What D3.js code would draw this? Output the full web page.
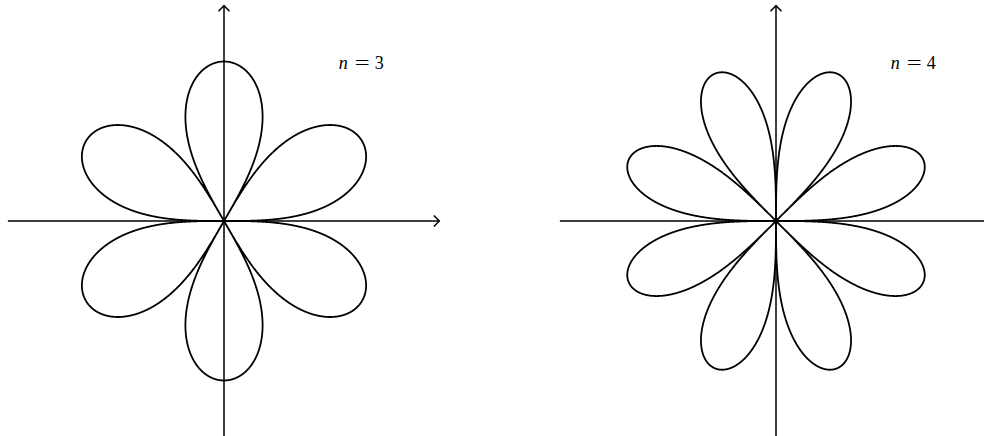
<!doctype html>
<meta charset="utf-8">
<style>
body { margin: 0; background: #fff; }
svg { display: block; }
.axis { stroke: #000; stroke-width: 1.5; fill: none; }
.curve { stroke: #000; stroke-width: 1.8; fill: none; stroke-linejoin: round; }
.label { font-family: "Liberation Serif", "DejaVu Serif", serif; font-size: 18px; fill: #000; }
</style>
<div id="chart"></div>
<script src="https://cdn.jsdelivr.net/npm/d3@7"></script>
<script>
// petal curves r = sqrt(|sin(n*theta)|), one panel per n
var petalCounts = [3, 4];
var panelLabels = ['3', '4'];
var axisMin = -1.355;
var axisMax = 1.35;
var labelPos = [0.72, 0.955];

var width = 984;
var height = 436;
var unit = 159.5;
var centers = [224, 776];
var cy = 221;

var svg = d3.select('#chart').append('svg')
    .attr('width', width)
    .attr('height', height);

function drawPanel (n, label, cx) {
    var x = d3.scaleLinear().domain([-1, 1]).range([cx - unit, cx + unit]);
    var y = d3.scaleLinear().domain([-1, 1]).range([cy + unit, cy - unit]);
    var g = svg.append('g');

    // axes
    g.append('line').attr('class', 'axis')
        .attr('x1', x(axisMin)).attr('x2', x(axisMax))
        .attr('y1', y(0)).attr('y2', y(0));
    g.append('line').attr('class', 'axis')
        .attr('x1', x(0)).attr('x2', x(0))
        .attr('y1', y(axisMin)).attr('y2', y(axisMax));

    // open arrow heads
    var ax = x(axisMax), ay = y(0);
    g.append('path').attr('class', 'axis')
        .attr('d', 'M' + (ax - 5.5) + ',' + (ay - 5.5) + 'L' + ax + ',' + ay + 'L' + (ax - 5.5) + ',' + (ay + 5.5));
    var tx = x(0), ty = y(axisMax);
    g.append('path').attr('class', 'axis')
        .attr('d', 'M' + (tx - 5.5) + ',' + (ty + 5.5) + 'L' + tx + ',' + ty + 'L' + (tx + 5.5) + ',' + (ty + 5.5));

    // the curve, sampled so every zero of sin(n*theta) is hit exactly
    var steps = 2 * n * 1200;
    var thetas = d3.range(0, steps + 1).map(function (i) { return i / steps * 2 * Math.PI; });
    var rad = function (t) { return Math.sqrt(Math.abs(Math.sin(n * t))); };
    var line = d3.line()
        .x(function (t) { return x(rad(t) * Math.cos(t)); })
        .y(function (t) { return y(rad(t) * Math.sin(t)); });
    g.append('path').attr('class', 'curve').datum(thetas).attr('d', line);

    // label: italic n, a wide math "=", then the number
    var lx = x(labelPos[0]), ly = y(labelPos[1]);
    g.append('text').attr('class', 'label')
        .attr('x', lx).attr('y', ly)
        .style('font-style', 'italic')
        .text('n');
    g.append('text').attr('class', 'label')
        .attr('x', lx + 16).attr('y', ly)
        .attr('textLength', 15)
        .attr('lengthAdjust', 'spacingAndGlyphs')
        .text('=');
    g.append('text').attr('class', 'label')
        .attr('x', lx + 36).attr('y', ly)
        .text(label);
}

petalCounts.forEach(function (n, i) {
    drawPanel(n, panelLabels[i], centers[i]);
});
</script>
